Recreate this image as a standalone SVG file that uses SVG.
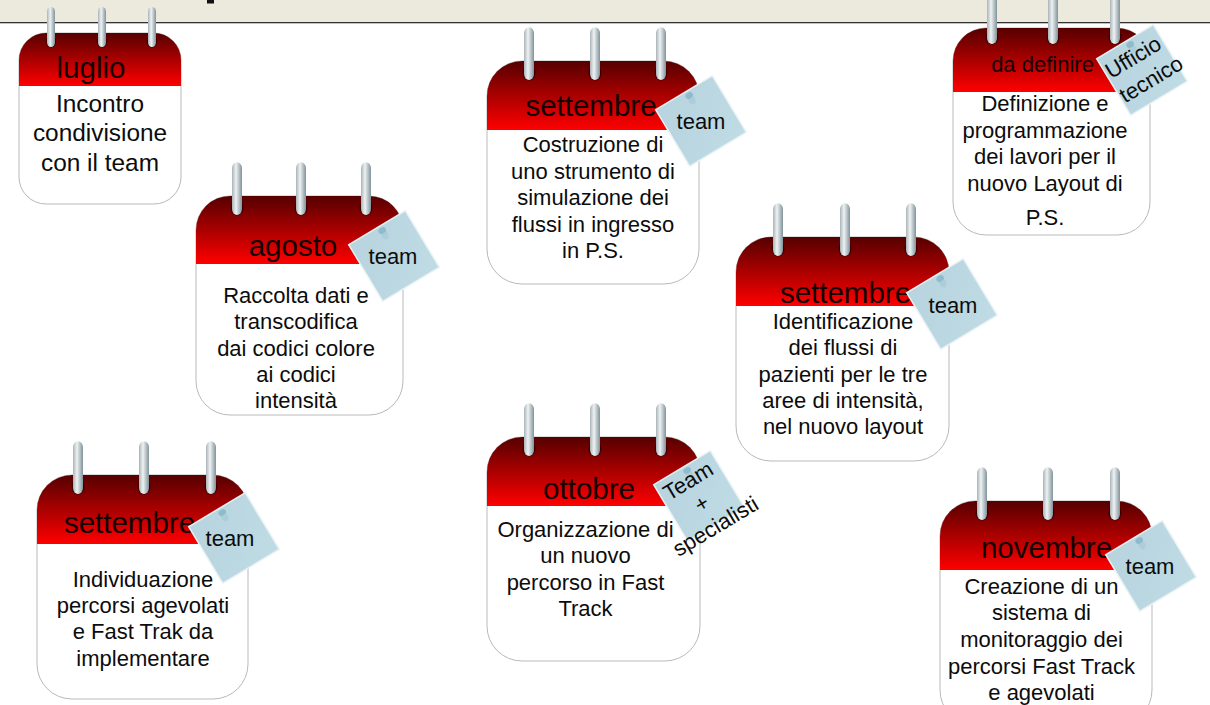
<svg xmlns="http://www.w3.org/2000/svg" width="1210" height="705" viewBox="0 0 1210 705">
<style>
text{font-family:"Liberation Sans",Arial,sans-serif;fill:#0c0c0c;text-anchor:middle}
.b{font-size:22px}
.b1{font-size:24.400px}
.h{font-size:29.500px;fill:#140000}
.n{font-size:22px}
.card{fill:#fff;stroke:#b9b9b9;stroke-width:1}
.hdr{fill:url(#red)}
.note{fill:url(#paper);stroke:#e9f2f5;stroke-width:1.500}
.pin{fill:#86b7ca;opacity:.85}
.pin2{fill:#a6c9d6;opacity:.7}
</style>
<defs>
<linearGradient id="red" x1="0" y1="0" x2="0" y2="1"><stop offset="0" stop-color="#560000"/><stop offset="1" stop-color="#ff0000"/></linearGradient>
<linearGradient id="steel" x1="0" y1="0" x2="1" y2="0"><stop offset="0" stop-color="#a9b4b8"/><stop offset=".4" stop-color="#eef2f3"/><stop offset="1" stop-color="#80939a"/></linearGradient>
<linearGradient id="paper" x1="0" y1="0" x2="1" y2="1"><stop offset="0" stop-color="#b7d4df"/><stop offset="1" stop-color="#bfdbe4"/></linearGradient>
<g id="note"><rect class="note" x="-33" y="-33" width="66" height="66"/><ellipse class="pin2" cx="3" cy="-23" rx="3.500" ry="5"/><ellipse class="pin" cx="3" cy="-28" rx="4" ry="3"/></g>
<g id="ring"><ellipse cx="0" cy="-6" rx="6.500" ry="6.500" fill="#3d0000"/><rect x="-5" y="-44" width="10" height="44" rx="5" fill="url(#steel)"/></g>
</defs>
<g id="title-bar">
<rect x="0" y="0" width="1210" height="22.500" fill="#ece9dd"/>
<rect x="0" y="22" width="1210" height="1.300" fill="#333"/>
<rect x="207" y="0" width="7" height="3.500" fill="#111"/>
</g>
<g id="connectors"/>

<g id="cal-luglio">
<rect class="card" x="19" y="33" width="162" height="171" rx="27"/>
<path class="hdr" d="M19 86V60a27 27 0 0 1 27-27h108a27 27 0 0 1 27 27v26z"/>
<use href="#ring" transform="translate(51 47) scale(.8 .91)"/><use href="#ring" transform="translate(102 47) scale(.8 .91)"/><use href="#ring" transform="translate(152 47) scale(.8 .91)"/>
<text class="h" x="91" y="77.500">luglio</text>
<text class="b1" x="100" y="112">Incontro</text><text class="b1" x="100" y="141">condivisione</text><text class="b1" x="100" y="171">con il team</text>
</g>

<g id="cal-agosto">
<rect class="card" x="196" y="196" width="207" height="219" rx="34"/>
<path class="hdr" d="M196 264V230a34 34 0 0 1 34-34h139a34 34 0 0 1 34 34v34z"/>
<use href="#ring" transform="translate(237 215) scale(1 1.2)"/><use href="#ring" transform="translate(301 215) scale(1 1.2)"/><use href="#ring" transform="translate(366 215) scale(1 1.2)"/>
<text class="h" x="293" y="255.500">agosto</text>
<text class="b" x="296" y="302.500">Raccolta dati e</text><text class="b" x="296" y="329">transcodifica</text><text class="b" x="296" y="355.500">dai codici colore</text><text class="b" x="296" y="382">ai codici</text><text class="b" x="296" y="408">intensità</text>
<use href="#note" transform="translate(394 256) rotate(-31)"/>
<text class="n" x="393" y="263.500">team</text>
</g>

<g id="cal-settembre-1">
<rect class="card" x="487" y="61" width="212" height="223" rx="35"/>
<path class="hdr" d="M487 130V96a35 35 0 0 1 35-35h142a35 35 0 0 1 35 35v34z"/>
<use href="#ring" transform="translate(529 80) scale(1 1.2)"/><use href="#ring" transform="translate(595 80) scale(1 1.2)"/><use href="#ring" transform="translate(661 80) scale(1 1.2)"/>
<text class="h" x="591" y="116">settembre</text>
<text class="b" x="593" y="152">Costruzione di</text><text class="b" x="593" y="179">uno strumento di</text><text class="b" x="593" y="205">simulazione dei</text><text class="b" x="593" y="231.500">flussi in ingresso</text><text class="b" x="593" y="258">in P.S.</text>
<use href="#note" transform="translate(701 121) rotate(-31)"/>
<text class="n" x="701" y="128.500">team</text>
</g>

<g id="cal-da-definire">
<rect class="card" x="953" y="28" width="197" height="207" rx="33"/>
<path class="hdr" d="M953 92V61a33 33 0 0 1 33-33h131a33 33 0 0 1 33 33v31z"/>
<use href="#ring" transform="translate(992 44) scale(1 1.13)"/><use href="#ring" transform="translate(1053 44) scale(1 1.13)"/><use href="#ring" transform="translate(1115 44) scale(1 1.13)"/>
<text x="1042.500" y="72" style="font-size:22px;fill:#140000">da definire</text>
<text class="b" x="1045" y="111">Definizione e</text><text class="b" x="1045" y="137.500">programmazione</text><text class="b" x="1045" y="164">dei lavori per il</text><text class="b" x="1045" y="190.500">nuovo Layout di</text><text class="b" x="1045" y="224.500">P.S.</text>
<use href="#note" transform="translate(1142 70) rotate(-31)"/>
<g transform="translate(1142 70) rotate(-31)"><text class="n" x="-1" y="-8">Ufficio</text><text class="n" x="3" y="20">tecnico</text></g>
</g>

<g id="cal-settembre-2">
<rect class="card" x="736" y="237" width="213" height="224" rx="35"/>
<path class="hdr" d="M736 306V272a35 35 0 0 1 35-35h143a35 35 0 0 1 35 35v34z"/>
<use href="#ring" transform="translate(778 256) scale(1 1.2)"/><use href="#ring" transform="translate(845 256) scale(1 1.2)"/><use href="#ring" transform="translate(911 256) scale(1 1.2)"/>
<text class="h" x="845.500" y="302.500">settembre</text>
<text class="b" x="843" y="329">Identificazione</text><text class="b" x="843" y="355">dei flussi di</text><text class="b" x="843" y="381.500">pazienti per le tre</text><text class="b" x="843" y="408">aree di intensità,</text><text class="b" x="843" y="434">nel nuovo layout</text>
<use href="#note" transform="translate(952 304) rotate(-31)"/>
<text class="n" x="953" y="313">team</text>
</g>

<g id="cal-ottobre">
<rect class="card" x="487" y="437" width="213" height="224" rx="35"/>
<path class="hdr" d="M487 506V472a35 35 0 0 1 35-35h143a35 35 0 0 1 35 35v34z"/>
<use href="#ring" transform="translate(529 456) scale(1 1.2)"/><use href="#ring" transform="translate(595 456) scale(1 1.2)"/><use href="#ring" transform="translate(661 456) scale(1 1.2)"/>
<text class="h" x="589" y="499">ottobre</text>
<text class="b" x="585.500" y="537">Organizzazione di</text><text class="b" x="585.500" y="563">un nuovo</text><text class="b" x="585.500" y="589.500">percorso in Fast</text><text class="b" x="585.500" y="616">Track</text>
<use href="#note" transform="translate(699 496) rotate(-31)"/>
<g transform="translate(702 504) rotate(-31)"><text class="n" x="0" y="-19.500">Team</text><text class="n" x="0" y="7">+</text><text class="n" x="0" y="33.500">specialisti</text></g>
</g>

<g id="cal-settembre-3">
<rect class="card" x="37" y="475" width="211" height="224" rx="35"/>
<path class="hdr" d="M37 544V510a35 35 0 0 1 35-35h141a35 35 0 0 1 35 35v34z"/>
<use href="#ring" transform="translate(78 494) scale(1 1.2)"/><use href="#ring" transform="translate(144 494) scale(1 1.2)"/><use href="#ring" transform="translate(211 494) scale(1 1.2)"/>
<text class="h" x="129.500" y="533">settembre</text>
<text class="b" x="143" y="586.500">Individuazione</text><text class="b" x="143" y="613">percorsi agevolati</text><text class="b" x="143" y="639">e Fast Trak da</text><text class="b" x="143" y="665.500">implementare</text>
<use href="#note" transform="translate(234 538) rotate(-31)"/>
<text class="n" x="230" y="545.500">team</text>
</g>

<g id="cal-novembre">
<rect class="card" x="940" y="501" width="212" height="224" rx="35"/>
<path class="hdr" d="M940 570V536a35 35 0 0 1 35-35h142a35 35 0 0 1 35 35v34z"/>
<use href="#ring" transform="translate(982 520) scale(1 1.2)"/><use href="#ring" transform="translate(1048 520) scale(1 1.2)"/><use href="#ring" transform="translate(1115 520) scale(1 1.2)"/>
<text class="h" x="1046.500" y="557.500">novembre</text>
<text class="b" x="1041.500" y="593.500">Creazione di un</text><text class="b" x="1041.500" y="620">sistema di</text><text class="b" x="1041.500" y="647">monitoraggio dei</text><text class="b" x="1041.500" y="673.500">percorsi Fast Track</text><text class="b" x="1041.500" y="699.500">e agevolati</text>
<use href="#note" transform="translate(1151 566) rotate(-31)"/>
<text class="n" x="1150" y="574">team</text>
</g>
</svg>
